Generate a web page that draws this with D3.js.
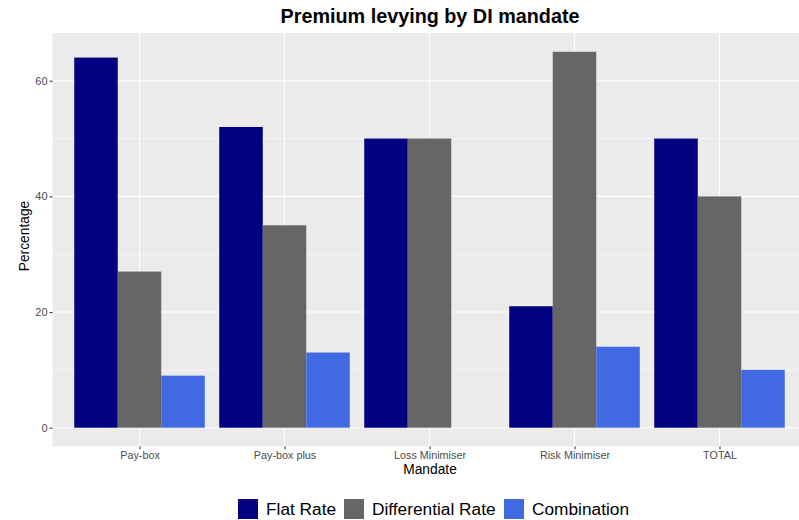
<!DOCTYPE html>
<html><head><meta charset="utf-8">
<script src="https://cdn.jsdelivr.net/npm/d3@7"></script>
<style>body{margin:0;background:#fff;font-family:"Liberation Sans",Arial,sans-serif}</style>
</head><body>
<svg id="c" width="799" height="520"></svg>
<script>
const categories = ["Pay-box", "Pay-box plus", "Loss Minimiser", "Risk Minimiser", "TOTAL"];
const seriesNames = ["Flat Rate", "Differential Rate", "Combination"];
const flatRate = [64, 52, 50, 21, 50];
const differentialRate = [27, 35, 50, 65, 40];
const combination = [9, 13, 0, 14, 10];
const colors = ["#000080", "#666666", "#4169E1"];
const yTicks = [0, 20, 40, 60];
const yMinor = [10, 30, 50];

const seriesValues = [flatRate, differentialRate, combination];
const svg = d3.select("#c");
const panel = {left: 52.5, top: 33, bottom: 446.5};
const step = 145;
const right = panel.left + step * 5.2;

svg.append("rect").attr("x", panel.left).attr("y", panel.top)
  .attr("width", right - panel.left).attr("height", panel.bottom - panel.top).attr("fill", "#EBEBEB");

const xc = d3.scalePoint().domain(categories).range([panel.left + 0.6 * step, right - 0.6 * step]);
const xs = d3.scaleBand().domain(seriesNames).range([-0.45 * step, 0.45 * step]);

const ymax = d3.max([...flatRate, ...differentialRate, ...combination]);
const y = d3.scaleLinear().domain([-0.05 * ymax, ymax * 1.05]).range([panel.bottom, panel.top]);

const g = svg.append("g");
yMinor.forEach(v => g.append("line").attr("x1", panel.left).attr("x2", right).attr("y1", y(v)).attr("y2", y(v)).attr("stroke", "#fff").attr("stroke-width", 0.55));
yTicks.forEach(v => g.append("line").attr("x1", panel.left).attr("x2", right).attr("y1", y(v)).attr("y2", y(v)).attr("stroke", "#fff").attr("stroke-width", 1.1));
categories.forEach(c => g.append("line").attr("x1", xc(c)).attr("x2", xc(c)).attr("y1", panel.top).attr("y2", panel.bottom).attr("stroke", "#fff").attr("stroke-width", 1.1));

categories.forEach((c, i) => {
  seriesNames.forEach((s, j) => {
    const v = seriesValues[j][i];
    g.append("rect").attr("x", xc(c) + xs(s)).attr("width", xs.bandwidth())
      .attr("y", y(v)).attr("height", y(0) - y(v)).attr("fill", colors[j]);
  });
});

const yAxis = d3.axisLeft(y).tickValues(yTicks).tickSize(2.75).tickPadding(2.2);
const ya = svg.append("g").attr("transform", `translate(${panel.left},0)`).call(yAxis);
ya.select(".domain").remove();
ya.selectAll("line").attr("stroke", "#333333").attr("stroke-width", 1.1);
ya.selectAll("text").attr("fill", "#4D4D4D").style("font-size", "11px").style("font-family", "Liberation Sans, Arial, sans-serif");

const xAxis = d3.axisBottom(xc).tickSize(2.75).tickPadding(2.2);
const xa = svg.append("g").attr("transform", `translate(0,${panel.bottom})`).call(xAxis);
xa.select(".domain").remove();
xa.selectAll("line").attr("stroke", "#333333").attr("stroke-width", 1.1);
xa.selectAll("text").attr("fill", "#4D4D4D").style("font-size", "10.8px").style("font-family", "Liberation Sans, Arial, sans-serif");

svg.append("text").attr("x", 430).attr("y", 23).attr("text-anchor", "middle")
  .style("font-size", "19.8px").style("font-weight", "bold").attr("fill", "#000").text("Premium levying by DI mandate");
svg.append("text").attr("x", 430).attr("y", 474).attr("text-anchor", "middle")
  .style("font-size", "13.8px").attr("fill", "#000").text("Mandate");
svg.append("text").attr("transform", "translate(29,236) rotate(-90)").attr("text-anchor", "middle")
  .style("font-size", "13.8px").attr("fill", "#000").text("Percentage");

const lg = svg.append("g");
const keyX = [238, 344, 504];
seriesNames.forEach((s, j) => {
  lg.append("rect").attr("x", keyX[j]).attr("y", 499).attr("width", 20).attr("height", 20).attr("fill", colors[j]);
  lg.append("text").attr("x", keyX[j] + 28).attr("y", 515).style("font-size", "17.3px").attr("fill", "#000").text(s);
});
</script>
</body></html>
